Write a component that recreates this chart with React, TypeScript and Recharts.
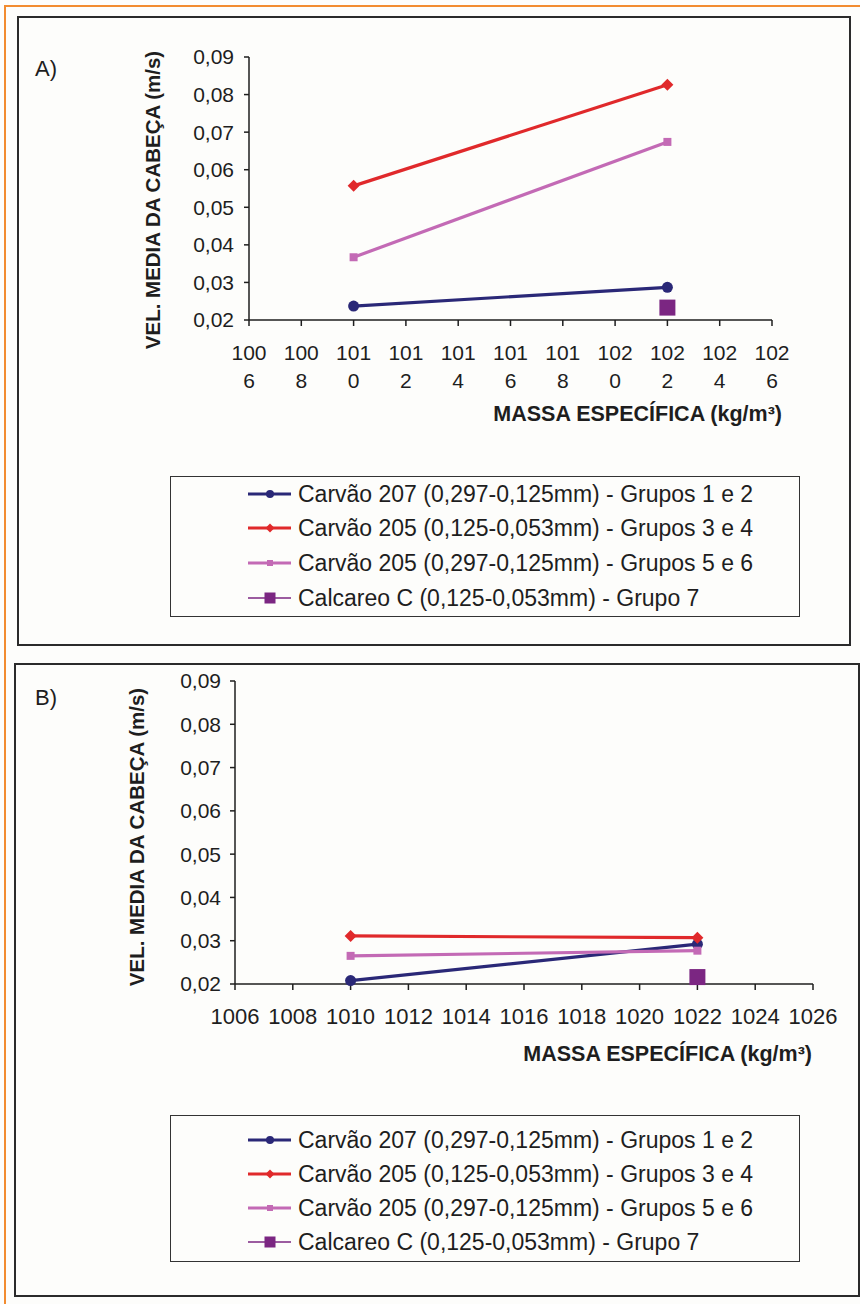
import React from "react";
import { LineChart, Line, XAxis, YAxis } from "recharts";

// x axis: massa específica (kg/m³)
const massaTicks = [1006, 1008, 1010, 1012, 1014, 1016, 1018, 1020, 1022, 1024, 1026];
const velTicks = [0.02, 0.03, 0.04, 0.05, 0.06, 0.07, 0.08, 0.09];

const seriesNames = [
  "Carvão 207 (0,297-0,125mm) - Grupos 1 e 2",
  "Carvão 205 (0,125-0,053mm) - Grupos 3 e 4",
  "Carvão 205 (0,297-0,125mm) - Grupos 5 e 6",
  "Calcareo C (0,125-0,053mm) - Grupo 7",
];

const massaCarvao = [1010, 1022];
const massaCalcareo = [1022];

// painel A
const velA207 = [0.0237, 0.0287];
const velA205fino = [0.0557, 0.0826];
const velA205grosso = [0.0367, 0.0674];
const velACalcareo = [0.0233];

// painel B
const velB207 = [0.0208, 0.0292];
const velB205fino = [0.0311, 0.0307];
const velB205grosso = [0.0265, 0.0277];
const velBCalcareo = [0.0216];

const styles = [
  { color: "#2a2877", shape: "circle", size: 11, legendSize: 8, width: 3 },
  { color: "#e0292b", shape: "diamond", size: 12, legendSize: 9, width: 3 },
  { color: "#c36ab5", shape: "square", size: 8, legendSize: 6, width: 3 },
  { color: "#7b2682", shape: "square", size: 16, legendSize: 11, width: 1.5 },
];

const FONT = "'Liberation Sans', Arial, Helvetica, sans-serif";
const INK = "#1e1e1e";

const toRows = (xs: number[], ys: number[]) => xs.map((m, i) => ({ massa: m, vel: ys[i] }));

function marker(shape: string, color: string, size: number, cx: number, cy: number, key?: any) {
  const h = size / 2;
  if (shape === "circle") return <circle key={key} cx={cx} cy={cy} r={h} fill={color} />;
  if (shape === "diamond")
    return <path key={key} d={`M${cx},${cy - h}L${cx + h},${cy}L${cx},${cy + h}L${cx - h},${cy}Z`} fill={color} />;
  return <rect key={key} x={cx - h} y={cy - h} width={size} height={size} fill={color} />;
}

const makeDot = (s: (typeof styles)[number]) => (p: any) => {
  if (p.cx == null || p.cy == null) return <g key={p.index} />;
  return marker(s.shape, s.color, s.size, p.cx, p.cy, p.index);
};

const fmtVel = (v: number) => v.toFixed(2).replace(".", ",");

const MassaTick = ({ x, y, payload, wrap }: any) => {
  const s = String(payload.value);
  if (wrap) {
    return (
      <text x={x} y={y} textAnchor="middle" fill={INK} fontSize={21} fontFamily={FONT}>
        <tspan x={x} dy={34}>{s.slice(0, 3)}</tspan>
        <tspan x={x} dy={28}>{s.slice(3)}</tspan>
      </text>
    );
  }
  return (
    <text x={x} y={y + 34} textAnchor="middle" fill={INK} fontSize={22} fontFamily={FONT}>
      {s}
    </text>
  );
};

interface PanelProps {
  top: number;
  height: number;
  plot: { left: number; right: number; top: number; bottom: number };
  series: { massa: number; vel: number }[][];
  wrap: boolean;
  tickMarginY: number;
}

function Plot({ top, height, plot, series, wrap, tickMarginY }: PanelProps) {
  const yw = 100;
  const xh = 80;
  return (
    <div style={{ position: "absolute", left: 0, top }}>
      <LineChart
        width={860}
        height={height}
        margin={{
          top: plot.top,
          left: plot.left - yw,
          right: 860 - plot.right,
          bottom: height - plot.bottom - xh,
        }}
      >
        <XAxis
          dataKey="massa"
          type="number"
          domain={[1006, 1026]}
          ticks={massaTicks}
          interval={0}
          height={xh}
          allowDataOverflow
          stroke={INK}
          strokeWidth={1.5}
          tickSize={6}
          tickMargin={0}
          tick={<MassaTick wrap={wrap} />}
          allowDuplicatedCategory={false}
        />
        <YAxis
          type="number"
          domain={[0.02, 0.09]}
          ticks={velTicks}
          interval={0}
          width={yw}
          stroke={INK}
          strokeWidth={1.5}
          tickSize={5}
          tickMargin={tickMarginY}
          tickFormatter={fmtVel}
          tick={{ fill: INK, fontSize: 21, fontFamily: FONT }}
        />
        {series.map((d, i) => (
          <Line
            key={i}
            data={d}
            dataKey="vel"
            stroke={styles[i].color}
            strokeWidth={3.2}
            dot={makeDot(styles[i])}
            activeDot={false}
            isAnimationActive={false}
          />
        ))}
      </LineChart>
    </div>
  );
}

function Legend({ left, top, width, height, rows }: { left: number; top: number; width: number; height: number; rows: number[] }) {
  return (
    <div
      style={{
        position: "absolute",
        left,
        top,
        width,
        height,
        border: "1.5px solid #333",
        boxSizing: "border-box",
        fontFamily: FONT,
        fontSize: 23,
        color: INK,
      }}
    >
      {seriesNames.map((name, i) => (
        <div key={name} style={{ position: "absolute", left: 77, top: rows[i] - 15, height: 30, display: "flex", alignItems: "center", whiteSpace: "nowrap" }}>
          <svg width={44} height={30} style={{ marginRight: 6 }}>
            <line x1={0} y1={15} x2={43} y2={15} stroke={styles[i].color} strokeWidth={styles[i].width} />
            {marker(styles[i].shape, styles[i].color, styles[i].legendSize, 22, 15)}
          </svg>
          <span>{name}</span>
        </div>
      ))}
    </div>
  );
}

const titleY = (cx: number, cy: number) => ({
  position: "absolute" as const,
  left: cx,
  top: cy,
  transform: "translate(-50%, -50%) rotate(-90deg)",
  whiteSpace: "nowrap" as const,
  fontFamily: FONT,
  fontWeight: 700,
  fontSize: 20.5,
  color: INK,
});

const titleX = (right: number, cy: number) => ({
  position: "absolute" as const,
  right: 860 - right,
  top: cy - 12,
  lineHeight: "24px",
  whiteSpace: "nowrap" as const,
  fontFamily: FONT,
  fontWeight: 700,
  fontSize: 21.5,
  color: INK,
});

const panelTag = (left: number, cy: number) => ({
  position: "absolute" as const,
  left,
  top: cy - 12,
  lineHeight: "24px",
  fontFamily: FONT,
  fontSize: 22,
  color: INK,
});

export default function App() {
  const seriesA = [
    toRows(massaCarvao, velA207),
    toRows(massaCarvao, velA205fino),
    toRows(massaCarvao, velA205grosso),
    toRows(massaCalcareo, velACalcareo),
  ];
  const seriesB = [
    toRows(massaCarvao, velB207),
    toRows(massaCarvao, velB205fino),
    toRows(massaCarvao, velB205grosso),
    toRows(massaCalcareo, velBCalcareo),
  ];

  return (
    <div style={{ position: "absolute", left: 0, top: 0, width: 860, height: 1304, background: "#fdfdfb", overflow: "hidden" }}>
      {/* moldura laranja */}
      <div style={{ position: "absolute", left: 4, top: 5, width: 856, height: 2, background: "#f28c30" }} />
      <div style={{ position: "absolute", left: 4, top: 5, width: 2, height: 1299, background: "#f28c30" }} />

      {/* painel A */}
      <div style={{ position: "absolute", left: 17, top: 16, width: 834, height: 630, border: "2px solid #2b2b2b", boxSizing: "border-box" }} />
      <div style={panelTag(35, 69)}>A)</div>
      <Plot top={0} height={460} plot={{ left: 249, right: 772, top: 57, bottom: 320 }} series={seriesA} wrap tickMarginY={10} />
      <div style={titleY(153, 200)}>VEL. MEDIA DA CABEÇA (m/s)</div>
      <div style={titleX(782, 414)}>MASSA ESPECÍFICA (kg/m³)</div>
      <Legend left={170} top={476} width={630} height={141} rows={[17, 51, 86, 121]} />

      {/* painel B */}
      <div style={{ position: "absolute", left: 14, top: 663, width: 846, height: 634, border: "2px solid #2b2b2b", boxSizing: "border-box" }} />
      <div style={panelTag(35, 698)}>B)</div>
      <Plot top={640} height={460} plot={{ left: 235, right: 813, top: 41, bottom: 344 }} series={seriesB} wrap={false} tickMarginY={9} />
      <div style={titleY(137, 837)}>VEL. MEDIA DA CABEÇA (m/s)</div>
      <div style={titleX(812, 1054)}>MASSA ESPECÍFICA (kg/m³)</div>
      <Legend left={170} top={1115} width={630} height={147} rows={[24, 58, 92, 126]} />
    </div>
  );
}
